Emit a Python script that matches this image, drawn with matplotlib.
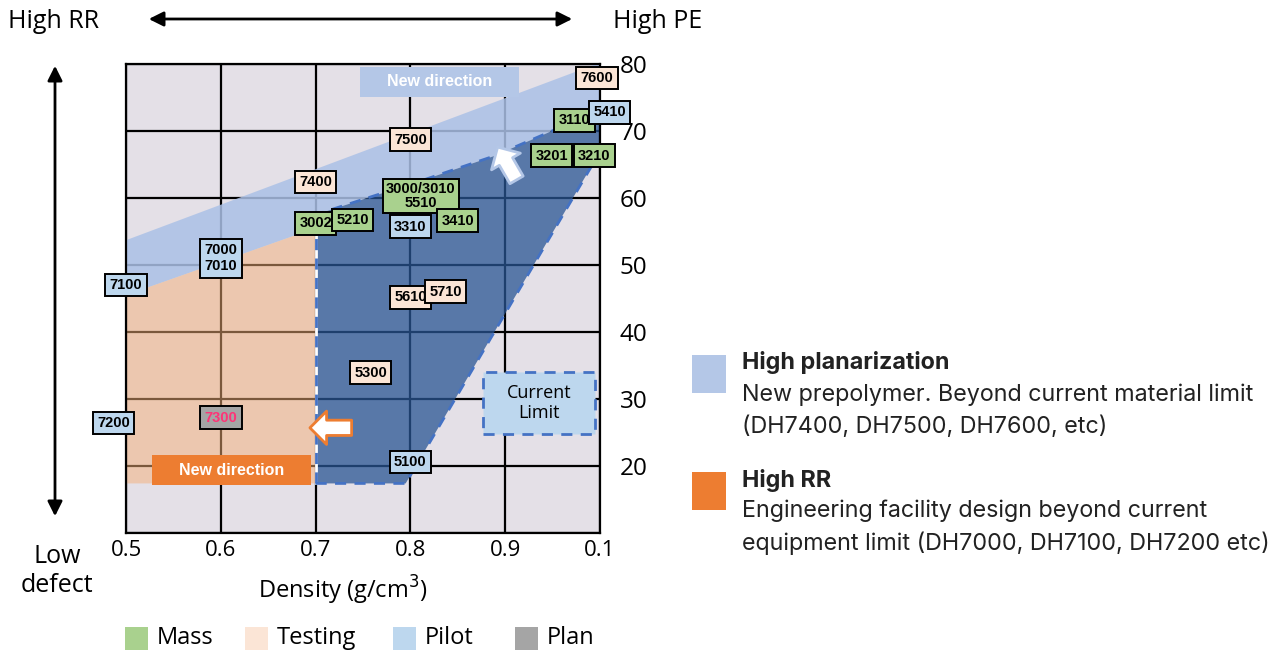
import numpy as np
import matplotlib.pyplot as plt
from matplotlib.patches import Polygon, Rectangle, FancyArrowPatch

W, H = 1279, 653

# product grades: name, density (g/cm3), PE, stage
grades = ['7600', '3110', '5410', '3201', '3210', '7500', '7400', '3000/3010\n5510',
          '3002', '5210', '3310', '3410', '7000\n7010', '7100', '5610', '5710',
          '5300', '7200', '7300', '5100']
density = [0.997, 0.973, 1.01, 0.949, 0.994, 0.80, 0.70, 0.811,
           0.70, 0.739, 0.80, 0.850, 0.60, 0.50, 0.80, 0.837,
           0.758, 0.487, 0.60, 0.80]
pe = [77.9, 71.6, 72.8, 66.3, 66.3, 68.7, 62.4, 60.3,
      56.2, 56.7, 55.7, 56.6, 51.0, 47.0, 45.2, 46.0,
      33.9, 26.4, 27.2, 20.6]
stage = ['Testing', 'Mass', 'Pilot', 'Mass', 'Mass', 'Testing', 'Testing', 'Mass',
         'Mass', 'Mass', 'Pilot', 'Mass', 'Pilot', 'Pilot', 'Testing', 'Testing',
         'Testing', 'Pilot', 'Plan', 'Pilot']
stage_names = ['Mass', 'Testing', 'Pilot', 'Plan']
stage_colors = ['#A9D18E', '#FBE5D6', '#BDD7EE', '#A5A5A5']

xticks = [0.5, 0.6, 0.7, 0.8, 0.9, 1.0]
xticklabels = ['0.5', '0.6', '0.7', '0.8', '0.9', '0.1']
yticks = [10, 20, 30, 40, 50, 60, 70, 80]

# region outlines (density, PE)
planar_x = [0.5, 0.7, 0.7, 0.726, 0.814, 0.887, 0.951, 1.0, 1.0, 0.5]
planar_y = [45.5, 55.5, 57.5, 58.7, 62.7, 66.2, 70.1, 71.5, 80.2, 53.7]
rr_x = [0.5, 0.7, 0.7, 0.5]
rr_y = [17.4, 17.4, 55.5, 45.5]
cur_x = [0.7, 0.795, 0.99, 1.0, 1.0, 0.951, 0.887, 0.814, 0.726, 0.7]
cur_y = [17.4, 17.4, 64.5, 66.0, 71.5, 70.1, 66.2, 62.7, 58.7, 57.5]

fig = plt.figure(figsize=(W / 100, H / 100), dpi=100)
ax = fig.add_axes([126 / W, 1 - 533 / H, (600 - 126) / W, (533 - 64) / H])
ax.set_xlim(0.5, 1.0)
ax.set_ylim(10, 80)
ax.set_facecolor('#E4E0E7')
ax.set_axisbelow(True)
ax.grid(True, color='black', lw=1.6)
ax.set_xticks(xticks)
ax.set_xticklabels(xticklabels, family='Open Sans', fontsize=16)
ax.set_yticks(yticks)
ax.set_yticklabels([''] + [str(v) for v in yticks[1:]], family='Open Sans', fontsize=17.5)
ax.yaxis.tick_right()
ax.tick_params(axis='x', length=0, pad=5)
ax.tick_params(axis='y', length=0, pad=14)
for s in ax.spines.values():
    s.set_linewidth(1.6)
    s.set_zorder(4)

# regions
ax.add_patch(Polygon(list(zip(planar_x, planar_y)), closed=True, fc='#ABC1E6', alpha=0.85, lw=0, zorder=2))
ax.add_patch(Polygon(list(zip(rr_x, rr_y)), closed=True, fc='#F4B078', alpha=0.5, lw=0, zorder=2))
ax.add_patch(Polygon(list(zip(cur_x, cur_y)), closed=True, fc='#295593', alpha=0.75, lw=0, zorder=2))
ax.plot([cur_x[0], cur_x[-1]], [cur_y[0], cur_y[-1]], color='white', lw=2, zorder=3)
ax.plot([cur_x[0], cur_x[-1]], [cur_y[0], cur_y[-1]], color='#4472C4', lw=2, ls=(0, (4, 3)), zorder=3)
ax.plot(cur_x[:4], cur_y[:4], color='#4472C4', lw=2, ls=(0, (4, 3)), zorder=3)
ax.plot(cur_x[4:], cur_y[4:], color='#4472C4', lw=2, ls=(0, (4, 3)), zorder=3)

# "New direction" boxes
ax.add_patch(Rectangle((0.747, 75.1), 0.168, 4.5, fc='#B4C7E7', lw=0, zorder=3))
ax.text(0.831, 77.35, 'New direction', ha='center', va='center', color='white',
        fontsize=11.5, fontweight='bold', family='Liberation Sans', zorder=4)
ax.add_patch(Rectangle((0.527, 17.2), 0.168, 4.4, fc='#ED7D31', lw=0, zorder=3))
ax.text(0.611, 19.4, 'New direction', ha='center', va='center', color='white',
        fontsize=11.5, fontweight='bold', family='Liberation Sans', zorder=4)

# current limit box
ax.add_patch(Rectangle((0.877, 24.8), 0.118, 9.2, fc='#BDD7EE', ec='#4472C4', lw=2,
                       ls=(0, (4, 3)), zorder=3))
ax.text(0.936, 29.4, 'Current\nLimit', ha='center', va='center', fontsize=13,
        family='Open Sans', linespacing=1.15, zorder=4)

# arrows
ax.annotate('', xy=(0.694, 25.7), xytext=(0.738, 25.7),
            arrowprops=dict(arrowstyle='simple,head_length=0.6,head_width=1.2,tail_width=0.55',
                            fc='white', ec='#ED7D31', lw=2, mutation_scale=20,
                            shrinkA=0, shrinkB=0), zorder=4)
ax.annotate('', xy=(0.892, 67.6), xytext=(0.912, 62.7),
            arrowprops=dict(arrowstyle='simple,head_length=0.6,head_width=1.2,tail_width=0.55',
                            fc='white', ec='#B4C7E7', lw=2, mutation_scale=20,
                            shrinkA=0, shrinkB=0), zorder=4)

# grade labels
color_of = dict(zip(stage_names, stage_colors))
for i, (g, x, y, st) in enumerate(zip(grades, density, pe, stage)):
    wide = g == '3000/3010\n5510'
    ax.text(x, y, g, ha='center', va='center', fontsize=10.5, fontweight='bold',
            family='Liberation Sans', color='#FF3377' if st == 'Plan' else 'black',
            linespacing=1.0 if wide else 1.15,
            bbox=dict(boxstyle='square,pad=0.2' if wide else 'square,pad=0.3',
                      fc=color_of[st], ec='black', lw=1.4),
            zorder=6 + i, clip_on=False)

# outer annotations
fig.text(8 / W, 1 - 22 / H, 'High RR', ha='left', va='center', fontsize=18, family='Open Sans')
fig.text(613 / W, 1 - 22 / H, 'High PE', ha='left', va='center', fontsize=18, family='Open Sans')
fig.text(57 / W, 1 - 571 / H, 'Low\ndefect', ha='center', va='center', fontsize=18,
         family='Open Sans', linespacing=1.2)
fig.add_artist(FancyArrowPatch((146 / W, 1 - 19 / H), (575 / W, 1 - 19 / H), transform=fig.transFigure,
                               arrowstyle='<|-|>', mutation_scale=22, lw=2, color='black'))
fig.add_artist(FancyArrowPatch((55 / W, 1 - 63 / H), (55 / W, 1 - 519 / H), transform=fig.transFigure,
                               arrowstyle='<|-|>', mutation_scale=22, lw=2, color='black'))
fig.text(343 / W, 1 - 590 / H, 'Density (g/cm$^3$)', ha='center', va='center', fontsize=17,
         family='Open Sans')

# bottom legend
sq_x = [125, 245, 393, 515]
for name, col, x0 in zip(stage_names, stage_colors, sq_x):
    fig.add_artist(Rectangle((x0 / W, 1 - 650 / H), 23 / W, 23 / H, transform=fig.transFigure,
                             fc=col, lw=0))
    fig.text((x0 + 32) / W, 1 - 638 / H, name, ha='left', va='center', fontsize=17, family='Open Sans')

# right legend
fig.add_artist(Rectangle((692 / W, 1 - 393 / H), 34 / W, 38 / H, transform=fig.transFigure,
                         fc='#B4C7E7', lw=0))
fig.add_artist(Rectangle((692 / W, 1 - 510 / H), 34 / W, 38 / H, transform=fig.transFigure,
                         fc='#ED7D31', lw=0))
legend_lines = [
    (363, 'High planarization', 'bold'),
    (395, 'New prepolymer. Beyond current material limit', 'normal'),
    (427, '(DH7400, DH7500, DH7600, etc)', 'normal'),
    (480, 'High RR', 'bold'),
    (511, 'Engineering facility design beyond current', 'normal'),
    (543, 'equipment limit (DH7000, DH7100, DH7200 etc)', 'normal'),
]
for yy, txt, wt in legend_lines:
    fig.text(742 / W, 1 - yy / H, txt, ha='left', va='center', fontsize=16.8,
             fontweight=wt, family='Inter', color='#222222')

fig.savefig('out.png', dpi=100)
